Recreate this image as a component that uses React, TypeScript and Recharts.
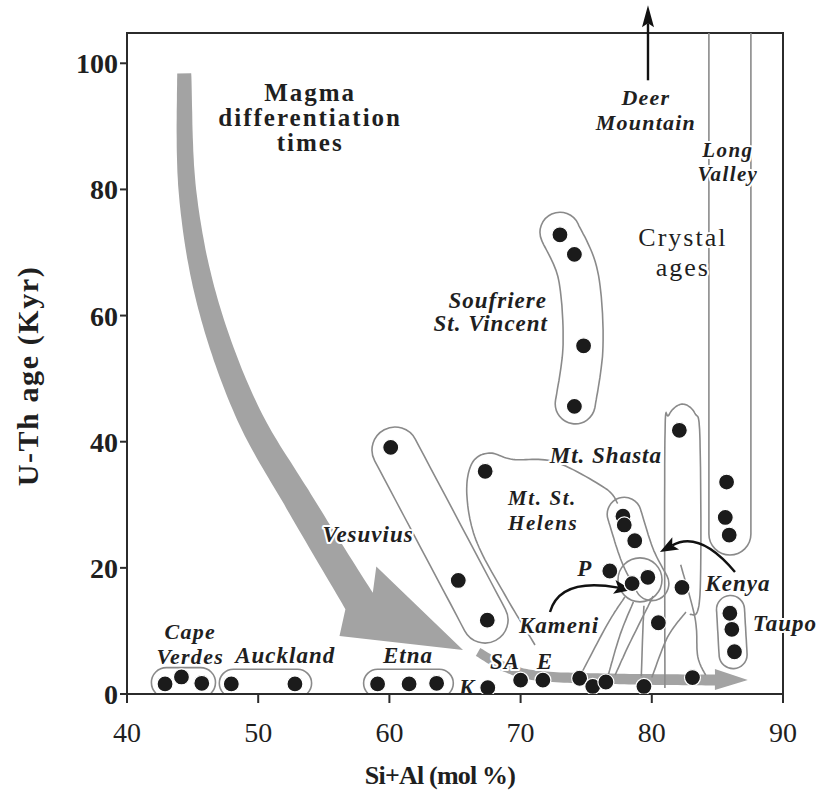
import React from 'react';
import { ScatterChart, Scatter, XAxis, YAxis } from 'recharts';

// Si+Al (mol %) against U-Th age (kyr), one list per volcano
const capeVerdes = [{ x: 42.9, y: 1.6 }, { x: 44.15, y: 2.7 }, { x: 45.7, y: 1.7 }];
const auckland = [{ x: 47.95, y: 1.6 }, { x: 52.8, y: 1.6 }];
const etna = [{ x: 59.1, y: 1.6 }, { x: 61.5, y: 1.6 }, { x: 63.6, y: 1.7 }];
const vesuvius = [{ x: 60.1, y: 39.1 }, { x: 65.25, y: 18.0 }, { x: 67.46, y: 11.7 }];
const kolumbo = [{ x: 67.5, y: 1.0 }];
const santaAna = [{ x: 70.0, y: 2.2 }];
const eDot = [{ x: 71.7, y: 2.2 }];
const soufriere = [{ x: 73.0, y: 72.8 }, { x: 74.1, y: 69.7 }, { x: 74.8, y: 55.2 }, { x: 74.1, y: 45.6 }];
const mtStHelens = [{ x: 67.3, y: 35.3 }, { x: 77.8, y: 28.2 }, { x: 77.9, y: 26.8 }, { x: 78.7, y: 24.3 }];
const pDot = [{ x: 76.8, y: 19.5 }];
const kameni = [{ x: 78.5, y: 17.5 }, { x: 79.7, y: 18.5 }];
const mtShasta = [{ x: 82.1, y: 41.8 }];
const kenya = [{ x: 82.3, y: 16.9 }, { x: 80.5, y: 11.3 }];
const longValley = [{ x: 85.7, y: 33.6 }, { x: 85.6, y: 28.0 }, { x: 85.9, y: 25.2 }];
const taupo = [{ x: 85.95, y: 12.8 }, { x: 86.1, y: 10.25 }, { x: 86.3, y: 6.7 }];
const crystalAges = [{ x: 74.5, y: 2.5 }, { x: 75.5, y: 1.2 }, { x: 76.5, y: 1.9 }, { x: 79.4, y: 1.2 }, { x: 83.1, y: 2.6 }];

const xTicks = [40, 50, 60, 70, 80, 90];
const yTicks = [0, 20, 40, 60, 80, 100];

const series = [
  capeVerdes, auckland, etna, vesuvius, kolumbo, santaAna, eDot, soufriere,
  mtStHelens, pDot, kameni, mtShasta, kenya, longValley, taupo, crystalAges,
];

const W = 819;
const H = 796;
const X_DOMAIN: [number, number] = [40, 90];
const Y_DOMAIN: [number, number] = [0, 104.8];
const PLOT = { x: 127, y: 33, w: 656, h: 661 };
const FONT = "'Liberation Serif', 'Times New Roman', Times, serif";
const INK = '#1f1f1f';
const ENVELOPE = '#8a8a8a';
const ARROW_GRAY = '#a3a3a3';

type P = [number, number];

// same linear mapping the axes use, for the overlay drawings
const sx = (v: number) => PLOT.x + ((v - X_DOMAIN[0]) / (X_DOMAIN[1] - X_DOMAIN[0])) * PLOT.w;
const sy = (v: number) => PLOT.y + PLOT.h - ((v - Y_DOMAIN[0]) / (Y_DOMAIN[1] - Y_DOMAIN[0])) * PLOT.h;
const toPx = ([x, y]: P): P => [sx(x), sy(y)];

function catmull(pts: P[], steps = 14): P[] {
  const n = pts.length;
  if (n < 2) return pts;
  const out: P[] = [];
  for (let i = 0; i < n - 1; i++) {
    const p0 = pts[Math.max(0, i - 1)];
    const p1 = pts[i];
    const p2 = pts[i + 1];
    const p3 = pts[Math.min(n - 1, i + 2)];
    for (let k = 0; k < steps; k++) {
      const t = k / steps;
      const t2 = t * t;
      const t3 = t2 * t;
      const f = (a: number, b: number, c: number, d: number) =>
        0.5 * (2 * b + (-a + c) * t + (2 * a - 5 * b + 4 * c - d) * t2 + (-a + 3 * b - 3 * c + d) * t3);
      out.push([f(p0[0], p1[0], p2[0], p3[0]), f(p0[1], p1[1], p2[1], p3[1])]);
    }
  }
  out.push(pts[n - 1]);
  return out;
}

const poly = (pts: P[]) => 'M' + pts.map((p) => `${p[0].toFixed(1)},${p[1].toFixed(1)}`).join('L');

function curve(pts: P[]) {
  return poly(catmull(pts.map(toPx)));
}

// rounded outline around a (possibly bent) spine, r in px
function capsule(spine: P[], r: number) {
  const s = catmull(spine.map(toPx));
  if (s.length === 1) {
    const [cx, cy] = s[0];
    return `M${cx - r},${cy}A${r},${r} 0 1 0 ${cx + r},${cy}A${r},${r} 0 1 0 ${cx - r},${cy}Z`;
  }
  const left: P[] = [];
  const right: P[] = [];
  s.forEach((p, i) => {
    const a = s[Math.max(0, i - 1)];
    const b = s[Math.min(s.length - 1, i + 1)];
    const L = Math.hypot(b[0] - a[0], b[1] - a[1]) || 1;
    const tx = (b[0] - a[0]) / L;
    const ty = (b[1] - a[1]) / L;
    left.push([p[0] - ty * r, p[1] + tx * r]);
    right.push([p[0] + ty * r, p[1] - tx * r]);
  });
  const rr = right.reverse();
  const f = (p: P) => `${p[0].toFixed(1)},${p[1].toFixed(1)}`;
  return (
    poly(left) +
    `A${r},${r} 0 0 0 ${f(rr[0])}` +
    'L' + rr.map(f).join('L') +
    `A${r},${r} 0 0 0 ${f(left[0])}Z`
  );
}

// wide grey arrow: tapered shaft along a spine, head = [left corner, tip, right corner]
function taperedArrow(spine: P[], w0: number, w1: number, head: [P, P, P]) {
  const s = catmull(spine.map(toPx), 20);
  const left: P[] = [];
  const right: P[] = [];
  s.forEach((p, i) => {
    const a = s[Math.max(0, i - 1)];
    const b = s[Math.min(s.length - 1, i + 1)];
    const L = Math.hypot(b[0] - a[0], b[1] - a[1]) || 1;
    const tx = (b[0] - a[0]) / L;
    const ty = (b[1] - a[1]) / L;
    const w = w0 + ((w1 - w0) * i) / (s.length - 1);
    left.push([p[0] - ty * w, p[1] + tx * w]);
    right.push([p[0] + ty * w, p[1] - tx * w]);
  });
  return poly([...left, ...head.map(toPx), ...right.reverse()]) + 'Z';
}

// thin black arrow along a quadratic curve
function InkArrow({ from, ctrl, to, len = 18, half = 7 }: { from: P; ctrl: P; to: P; len?: number; half?: number }) {
  const [x0, y0] = toPx(from);
  const [cx, cy] = toPx(ctrl);
  const [x1, y1] = toPx(to);
  const L = Math.hypot(x1 - cx, y1 - cy) || 1;
  const ux = (x1 - cx) / L;
  const uy = (y1 - cy) / L;
  const bx = x1 - ux * len;
  const by = y1 - uy * len;
  const head = `M${x1},${y1}L${bx - uy * half},${by + ux * half}L${bx + ux * 4},${by + uy * 4}L${bx + uy * half},${by - ux * half}Z`;
  return (
    <g>
      <path d={`M${x0},${y0}Q${cx},${cy} ${bx + ux * 4},${by + uy * 4}`} fill="none" stroke="#111" strokeWidth={2.4} />
      <path d={head} fill="#111" />
    </g>
  );
}

// annotation text; extra lines stack below the first one
function Note({ at, lines, gap = 25, anchor = 'middle', italic = true, size = 23, weight = 'bold', spacing = 1 }: {
  at: P; lines: string[]; gap?: number; anchor?: 'start' | 'middle' | 'end'; italic?: boolean; size?: number; weight?: string; spacing?: number;
}) {
  const [x, y] = toPx(at);
  return (
    <text
      x={x}
      y={y}
      textAnchor={anchor}
      dominantBaseline="central"
      fontFamily={FONT}
      fontSize={size}
      fontWeight={weight}
      fontStyle={italic ? 'italic' : 'normal'}
      fill={INK}
      stroke="#fff"
      strokeWidth={4}
      strokeLinejoin="round"
      paintOrder="stroke"
      letterSpacing={spacing}
    >
      {lines.map((l, i) => (
        <tspan key={i} x={x} dy={i === 0 ? 0 : gap}>
          {l}
        </tspan>
      ))}
    </text>
  );
}

function Backdrop() {
  return (
    <g>
      <defs>
        <clipPath id="plot-area">
          <rect x={PLOT.x} y={PLOT.y} width={PLOT.w} height={PLOT.h} />
        </clipPath>
      </defs>
      <rect x={PLOT.x} y={PLOT.y} width={PLOT.w} height={PLOT.h} fill="none" stroke="#2b2b2b" strokeWidth={2} />

      {/* magma differentiation arrow */}
      <path
        d={taperedArrow(
          [[44.36, 98.4], [44.6, 79.9], [46.1, 62.4], [49.1, 45.0], [53.1, 30.5], [57.69, 14.74]],
          7, 16,
          [[56.2, 9.2], [65.61, 6.97], [59.0, 20.2]],
        )}
        fill={ARROW_GRAY}
      />
      {/* crystal age arrow along the base */}
      <path
        d={taperedArrow(
          [[66.76, 6.66], [68.81, 4.28], [71.48, 2.85], [77.57, 2.38], [84.81, 2.22]],
          4.5, 5.5,
          [[84.81, 0.63], [87.32, 2.22], [84.81, 3.96]],
        )}
        fill={ARROW_GRAY}
      />

      <g fill="none" stroke={ENVELOPE} strokeWidth={1.6} clipPath="url(#plot-area)">
        <path d={capsule([[43.0, 1.8], [45.6, 1.8]], 15)} />
        <path d={capsule([[48.1, 1.7], [53.0, 1.7]], 14)} />
        <path d={capsule([[59.1, 1.7], [63.8, 1.7]], 14)} />
        <path d={capsule([[60.43, 38.67], [67.29, 11.73]], 23)} />
        <path d={capsule([[73.0, 73.2], [74.38, 66.4], [74.76, 55.3], [74.15, 45.8]], 20)} />
        <path d={capsule([[85.95, 112], [85.95, 25.36]], 21)} />
        <path d={capsule([[86.0, 13.4], [86.2, 6.1]], 14)} />
        <path d={capsule([[79.1, 18.1]], 22)} />
        <path d={capsule([[77.9, 28.5], [78.9, 22.0], [80.0, 17.5]], 17)} />
        {/* Mt. St. Helens loop */}
        <path d={curve([[71.1, 7.77], [68.81, 15.69], [66.6, 24.4], [65.9, 31.7], [66.3, 36.6], [67.6, 38.2], [69.4, 37.2], [72.6, 36.8], [76.43, 32.65], [77.4, 30.2]])} />
        {/* Mt. Shasta loop */}
        <path d={curve([[81.0, 0.95], [81.0, 40.25], [81.3, 44.22], [82.29, 45.96], [83.28, 44.53], [83.67, 40.25], [83.67, 15.69], [82.91, 12.52]])} />
        {/* tie lines down to the crystal ages */}
        <path d={curve([[74.53, 2.85], [76.6, 11.0], [77.95, 15.4]])} />
        <path d={curve([[76.66, 2.85], [77.6, 9.5], [78.6, 14.6]])} />
        <path d={curve([[79.2, 2.8], [79.3, 9.0], [79.4, 14.0]])} />
        <path d={curve([[80.0, 2.6], [81.2, 9.0], [82.6, 13.0]])} />
        <path d={curve([[84.1, 3.0], [83.5, 6.0], [83.3, 12.0], [82.2, 20.5]])} />
        <path d={curve([[77.2, 3.0], [78.3, 8.0], [80.1, 15.5]])} />
      </g>
    </g>
  );
}

function Foreground() {
  return (
    <g>
      <InkArrow from={[79.71, 97.3]} ctrl={[79.71, 103]} to={[79.71, 109.2]} len={22} half={6} />
      <InkArrow from={[86.34, 19.33]} ctrl={[83.67, 25.99]} to={[80.62, 22.5]} />
      <InkArrow from={[72.24, 13.0]} ctrl={[73.0, 18.5]} to={[78.49, 16.48]} />

      <Note at={[53.96, 95.4]} lines={['Magma', 'differentiation', 'times']} gap={25} italic={false} size={25} spacing={2} />
      <Note at={[82.37, 72.4]} lines={['Crystal', 'ages']} gap={29.5} italic={false} weight="normal" size={26} spacing={2} />

      <Note at={[79.55, 94.7]} lines={['Deer', 'Mountain']} size={22} spacing={1.2} />
      <Note at={[85.8, 86.3]} lines={['Long', 'Valley']} size={21} gap={24.5} spacing={1.4} />
      <Note at={[72.01, 62.44]} lines={['Soufriere']} anchor="end" />
      <Note at={[72.09, 58.8]} lines={['St. Vincent']} anchor="end" />
      <Note at={[76.5, 37.88]} lines={['Mt. Shasta']} />
      <Note at={[69.04, 31.0]} lines={['Mt. St.', 'Helens']} gap={24.5} size={21} spacing={1.6} anchor="start" />
      <Note at={[58.38, 25.36]} lines={['Vesuvius']} />
      <Note at={[74.9, 19.97]} lines={['P']} />
      <Note at={[86.56, 17.59]} lines={['Kenya']} />
      <Note at={[87.7, 11.25]} lines={['Taupo']} anchor="start" />
      <Note at={[72.93, 10.94]} lines={['Kameni']} />
      <Note at={[44.82, 10.0]} lines={['Cape', 'Verdes']} gap={25} size={22} spacing={1.3} />
      <Note at={[52.06, 6.18]} lines={['Auckland']} />
      <Note at={[61.42, 6.18]} lines={['Etna']} />
      <Note at={[65.92, 1.11]} lines={['K']} />
      <Note at={[68.81, 5.23]} lines={['SA']} />
      <Note at={[71.86, 5.23]} lines={['E']} />

      <text x={440} y={775} textAnchor="middle" dominantBaseline="central" fontFamily={FONT} fontSize={26} fontWeight="bold" fill={INK} letterSpacing={-0.8}>
        Si+Al (mol %)
      </text>
      <text
        x={27}
        y={376}
        transform="rotate(-90 27 376)"
        textAnchor="middle"
        dominantBaseline="central"
        fontFamily={FONT}
        fontSize={30}
        fontWeight="bold"
        fill={INK}
        letterSpacing={1.6}
      >
        U-Th age (Kyr)
      </text>
    </g>
  );
}

const Dot = (p: any) => <circle cx={p.cx} cy={p.cy} r={8} fill="#1b1b1b" stroke="#fff" strokeWidth={1.2} />;

export default function App() {
  return (
    <div style={{ position: 'absolute', left: 0, top: 0, width: W, height: H, background: '#fff' }}>
      <ScatterChart width={W} height={H} margin={{ top: 33, right: 36, bottom: 0, left: 0 }}>
        <XAxis
          type="number"
          dataKey="x"
          domain={X_DOMAIN}
          ticks={xTicks}
          allowDataOverflow
          height={102}
          tickSize={9}
          tickMargin={19}
          axisLine={{ stroke: '#2b2b2b', strokeWidth: 2 }}
          tickLine={{ stroke: '#2b2b2b', strokeWidth: 2 }}
          tick={{ fontFamily: FONT, fontSize: 28, fill: INK }}
        />
        <YAxis
          type="number"
          dataKey="y"
          domain={Y_DOMAIN}
          ticks={yTicks}
          allowDataOverflow
          width={127}
          tickSize={7}
          tickMargin={2}
          axisLine={{ stroke: '#2b2b2b', strokeWidth: 2 }}
          tickLine={{ stroke: '#2b2b2b', strokeWidth: 2 }}
          tick={{ fontFamily: FONT, fontSize: 28, fontWeight: 'bold', fill: INK }}
        />
        <Backdrop />
        {series.map((d, i) => (
          <Scatter key={i} data={d} shape={Dot} isAnimationActive={false} />
        ))}
        <Foreground />
      </ScatterChart>
    </div>
  );
}
